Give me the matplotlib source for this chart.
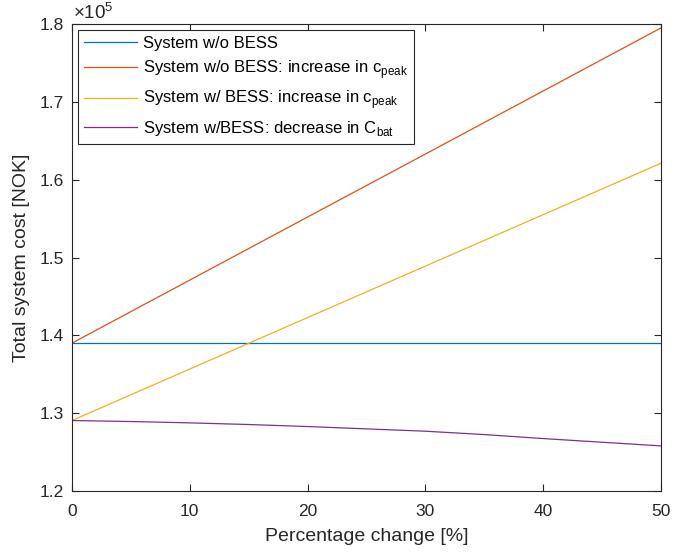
import numpy as np
import matplotlib.pyplot as plt
from matplotlib.ticker import FuncFormatter

# dati (NOK)
pct = [0, 10, 20, 30, 40, 50]
cost_no_bess = [139000, 139000, 139000, 139000, 139000, 139000]
cost_no_bess_peak = [139000, 147100, 155200, 163290, 171390, 179490]
cost_bess_peak = [129060, 135670, 142280, 148890, 155500, 162110]

# curva viola letta ogni 5%
pct_cbat = [0, 5, 10, 15, 20, 25, 30, 35, 40, 45, 50]
cost_bess_cbat = [129056, 128927, 128755, 128541, 128283, 127983,
                  127682, 127253, 126738, 126266, 125794]

labels = ["System w/o BESS",
          "System w/o BESS: increase in c$_{\\mathrm{peak}}$",
          "System w/ BESS: increase in c$_{\\mathrm{peak}}$",
          "System w/BESS: decrease in C$_{\\mathrm{bat}}$"]
colors = ["#0072BD", "#D95319", "#EDB120", "#7E2F8E"]

plt.rcParams['font.family'] = ['Liberation Sans', 'DejaVu Sans']
plt.rcParams['mathtext.fontset'] = 'custom'
plt.rcParams['mathtext.rm'] = 'Liberation Sans'

fig = plt.figure(figsize=(6.73, 5.52), dpi=100)
ax = fig.add_axes([0.107, 0.1105, 0.875, 0.846])

xs = [pct, pct, pct, pct_cbat]
ys = [cost_no_bess, cost_no_bess_peak, cost_bess_peak, cost_bess_cbat]
for x, data, lab, c in zip(xs, ys, labels, colors):
    ax.plot(x, data, color=c, lw=0.9, label=lab)

ax.set_xlim(0, 50)
ax.set_ylim(120000, 180000)
ax.set_xticks(np.arange(0, 51, 10))
ax.set_yticks(np.arange(120000, 180001, 10000))
ax.yaxis.set_major_formatter(FuncFormatter(lambda v, p: "%.1f" % (v / 1e5)))
ax.text(0.002, 1.002, "$\\times$10$^5$", transform=ax.transAxes, fontsize=13.5, color="#262626",
        ha='left', va='bottom')

ax.tick_params(direction='in', top=True, right=True, labelsize=12.5, colors="#262626",
               length=5, width=0.8)
ax.tick_params(axis='x', pad=9)
ax.tick_params(axis='y', pad=6)
for s in ax.spines.values():
    s.set_color("#262626")
    s.set_linewidth(0.8)

ax.set_xlabel("Percentage change [%]", fontsize=14, color="#262626", labelpad=7)
ax.set_ylabel("Total system cost [NOK]", fontsize=14, color="#262626", labelpad=7)

leg = ax.legend(loc='upper left', fontsize=12, fancybox=False, framealpha=1, edgecolor="#262626",
                borderaxespad=0.35, handlelength=3.2, handletextpad=0.35, labelspacing=0.45,
                borderpad=0.35)
leg.get_frame().set_linewidth(0.8)

fig.savefig("out.png", dpi=100)
